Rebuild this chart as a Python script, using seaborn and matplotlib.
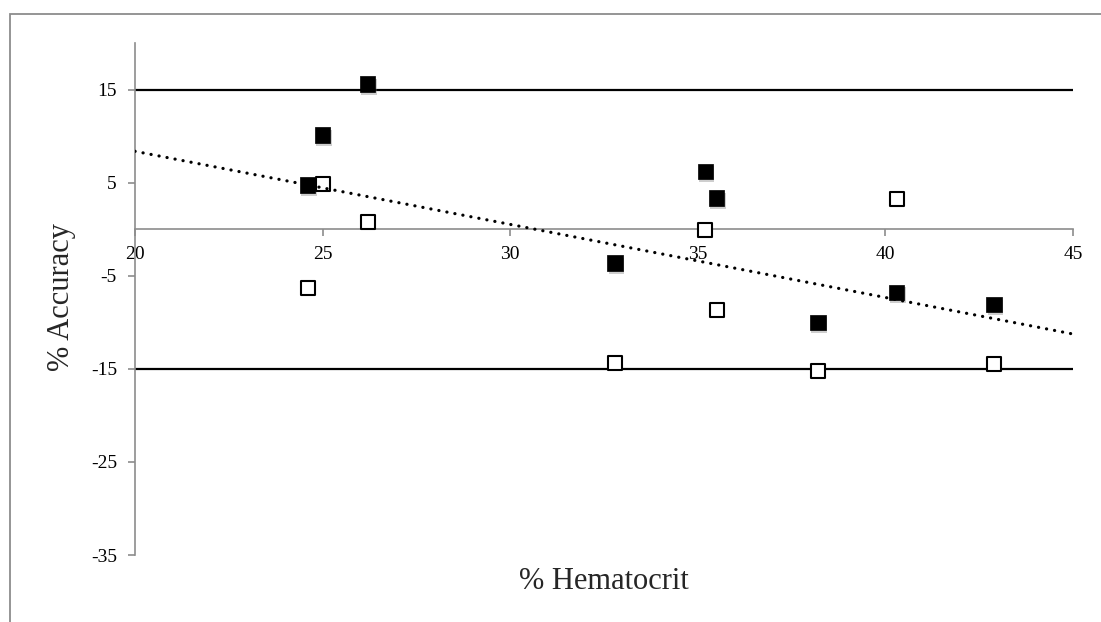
import matplotlib
matplotlib.use("Agg")
import matplotlib.pyplot as plt
import matplotlib.patheffects as pe
from matplotlib.patches import Rectangle
import numpy as np
import pandas as pd
import seaborn as sns

# Data
hematocrit = [24.6, 25.0, 26.2, 32.8, 35.2, 35.5, 38.2, 40.3, 42.9]
accuracy_filled = [4.75, 10.1, 15.6, -3.65, 6.2, 3.35, -10.0, -6.8, -8.1]
accuracy_open = [-6.3, 4.8, 0.8, -14.4, -0.1, -8.7, -15.2, 3.2, -14.5]
limit_lines = [15, -15]
x_ticks = [20, 25, 30, 35, 40, 45]
y_ticks = [-35, -25, -15, -5, 5, 15]

df_filled = pd.DataFrame({"hct": hematocrit, "acc": accuracy_filled})
df_open = pd.DataFrame({"hct": hematocrit, "acc": accuracy_open})
df_all = pd.concat([df_filled, df_open], ignore_index=True)

sns.set_theme(style="white")
plt.rcParams["font.family"] = ["Liberation Serif", "DejaVu Serif"]
plt.rcParams["axes.unicode_minus"] = False

W, H = 1101, 622
fig = plt.figure(figsize=(W / 100, H / 100), dpi=100)
ax_left, ax_right, ax_top, ax_bottom = 135, 1073, 43, 555
ax = fig.add_axes([ax_left / W, (H - ax_bottom) / H,
                   (ax_right - ax_left) / W, (ax_bottom - ax_top) / H])

# outer chart frame (only top and left visible)
fig.patches.append(Rectangle((10 / W, -0.1), 1.2, (H - 14) / H + 0.1,
                             transform=fig.transFigure, fill=False,
                             edgecolor="#8c8c8c", linewidth=1.3))

ax.set_xlim(20, 45)
ax.set_ylim(-35, 20)

for yv in limit_lines:
    ax.axhline(yv, color="black", linewidth=1.6, zorder=2)

sns.scatterplot(data=df_filled, x="hct", y="acc", marker="s", s=125,
                color="black", edgecolor="black", linewidth=0.5, ax=ax,
                zorder=3, legend=False)
ax.collections[-1].set_path_effects([
    pe.SimplePatchShadow(offset=(1, -2), shadow_rgbFace="0.45", alpha=0.35),
    pe.Normal()])
sns.scatterplot(data=df_open, x="hct", y="acc", marker="s", s=95,
                color="white", edgecolor="black", linewidth=1.5, ax=ax,
                zorder=4, legend=False)

sns.regplot(data=df_all, x="hct", y="acc", scatter=False, ci=None,
            truncate=False, ax=ax,
            line_kws=dict(color="black", linewidth=2.3,
                          linestyle=(0, (0.05, 2.5)),
                          dash_capstyle="round", zorder=5))

ax.set_xlim(20, 45)
ax.set_ylim(-35, 20)
ax.set_xticks(x_ticks)
ax.set_yticks(y_ticks)

spine_col = "#8c8c8c"
for s in ["top", "right"]:
    ax.spines[s].set_visible(False)
ax.spines["bottom"].set_position(("data", 0))
ax.spines["bottom"].set_zorder(1)
for s in ["left", "bottom"]:
    ax.spines[s].set_color(spine_col)
    ax.spines[s].set_linewidth(1.2)

ax.tick_params(axis="x", direction="out", length=5, width=1.2,
               color=spine_col, pad=7, labelsize=14, labelcolor="black",
               bottom=True)
ax.tick_params(axis="y", direction="out", length=5, width=1.2,
               color=spine_col, pad=8, labelsize=14, labelcolor="black",
               left=True)

ax.set_xlabel("% Hematocrit", fontsize=22)
ax.set_ylabel("% Accuracy", fontsize=22)
ax.xaxis.set_label_coords(0.5, -0.024)
ax.yaxis.set_label_coords(-0.078, 0.504)
ax.yaxis.label.set_va("center")
ax.grid(False)

fig.savefig("out.png", dpi=100, facecolor="white")
